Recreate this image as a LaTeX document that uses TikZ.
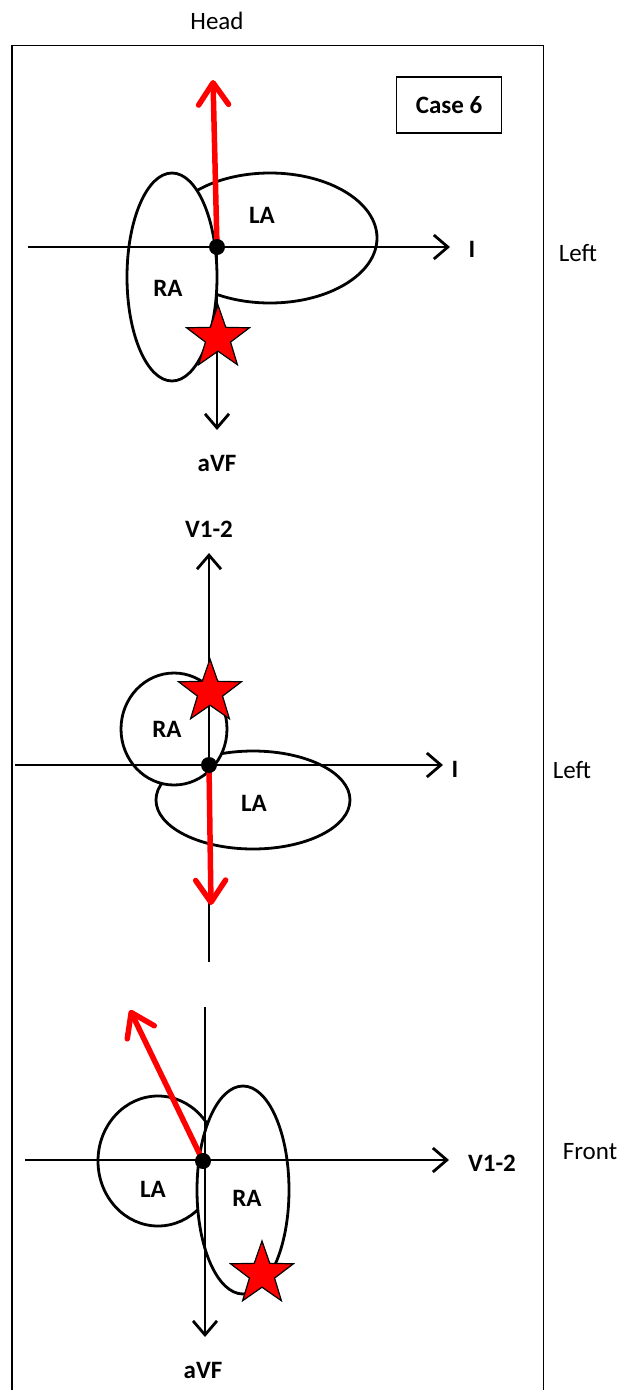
\documentclass[tikz,border=0pt]{standalone}
\usepackage{fontspec}
\setmainfont{Carlito}
\usetikzlibrary{arrows.meta,shapes.geometric}

\begin{document}
\begin{tikzpicture}[x=1pt,y=-1pt,
  axis/.style={line width=2.8pt,-{Straight Barb[length=14pt,width=24pt]}},
  vec/.style={draw=red,line width=5.5pt,line cap=round,-{Straight Barb[length=22pt,width=30pt,round]}},
  chamber/.style={ellipse,draw,fill=white,line width=2.8pt,inner sep=0},
  starmark/.style={star,star points=5,star point ratio=2.5,fill=red,draw=black,line width=1.2pt,minimum size=66pt,inner sep=0},
  lab/.style={font=\fontsize{25}{30}\selectfont\bfseries,inner sep=0},
  side/.style={font=\fontsize{25}{30}\selectfont,inner sep=0}]

\useasboundingbox (0,0) rectangle (622,1390);

\coordinate (f1) at (12,1390);
\coordinate (f2) at (12,45.5);
\coordinate (f3) at (543.5,45.5);
\coordinate (f4) at (543.5,1390);
\draw [line width=1.4pt] (f1) -- (f2) -- (f3) -- (f4);

\node[side] (head) at (217,21) {Head};
\node[draw,line width=1.6pt,minimum width=105pt,minimum height=56pt,font=\fontsize{25}{30}\selectfont\bfseries] (case) at (449,105) {Case 6};

\node[chamber,minimum width=214pt,minimum height=130pt] (la1) at (270,238) {};
\node[chamber,minimum width=90pt,minimum height=208pt] (ra1) at (172,277) {};
\coordinate (o1) at (217,247);
\coordinate (w1) at (28,247);
\coordinate (e1) at (450,247);
\coordinate (s1) at (217,430);
\coordinate (h1) at (213,80);
\draw [axis,-] (w1) -- (o1);
\draw [axis] (o1) -- (e1);
\draw [axis] (o1) -- (s1);
\draw [vec] (o1) -- (h1);
\fill (o1) circle (8pt);
\node[starmark] (st1) at (218,338) {};
\node[lab] at (262,215) {LA};
\node[lab] at (168,288) {RA};
\node[lab] at (472,249) {I};
\node[lab] at (217,463) {aVF};
\node[side] at (578,253) {Left};

\node[chamber,minimum width=194pt,minimum height=98pt] (la2) at (253,800) {};
\node[chamber,minimum width=106pt,minimum height=112pt] (ra2) at (174,729) {};
\coordinate (o2) at (209,765);
\coordinate (w2) at (15,765);
\coordinate (e2) at (443,765);
\coordinate (n2) at (209,553);
\coordinate (s2) at (209,962);
\coordinate (h2) at (211,905);
\draw [axis] (w2) -- (e2);
\draw [axis] (s2) -- (n2);
\draw [vec] (o2) -- (h2);
\fill (o2) circle (8pt);
\node[starmark] (st2) at (210,692) {};
\node[lab] at (209,529) {V1-2};
\node[lab] at (167,729) {RA};
\node[lab] at (254,803) {LA};
\node[lab] at (455,769) {I};
\node[side] at (572,770) {Left};

\node[chamber,minimum width=120pt,minimum height=130pt] (la3) at (158,1161) {};
\node[chamber,minimum width=92pt,minimum height=208pt] (ra3) at (243,1190) {};
\coordinate (o3) at (203,1161);
\coordinate (w3) at (25,1160);
\coordinate (e3) at (449,1160);
\coordinate (n3) at (205,1007);
\coordinate (s3) at (205,1337);
\coordinate (h3) at (130,1010);
\draw [axis] (w3) -- (e3);
\draw [axis] (n3) -- (s3);
\draw [vec] (o3) -- (h3);
\fill (o3) circle (8pt);
\node[starmark] (st3) at (262,1274) {};
\node[lab] at (153,1189) {LA};
\node[lab] at (247,1198) {RA};
\node[lab] at (492,1163) {V1-2};
\node[lab] at (203,1370) {aVF};
\node[side] at (590,1152) {Front};
\end{tikzpicture}
\end{document}
